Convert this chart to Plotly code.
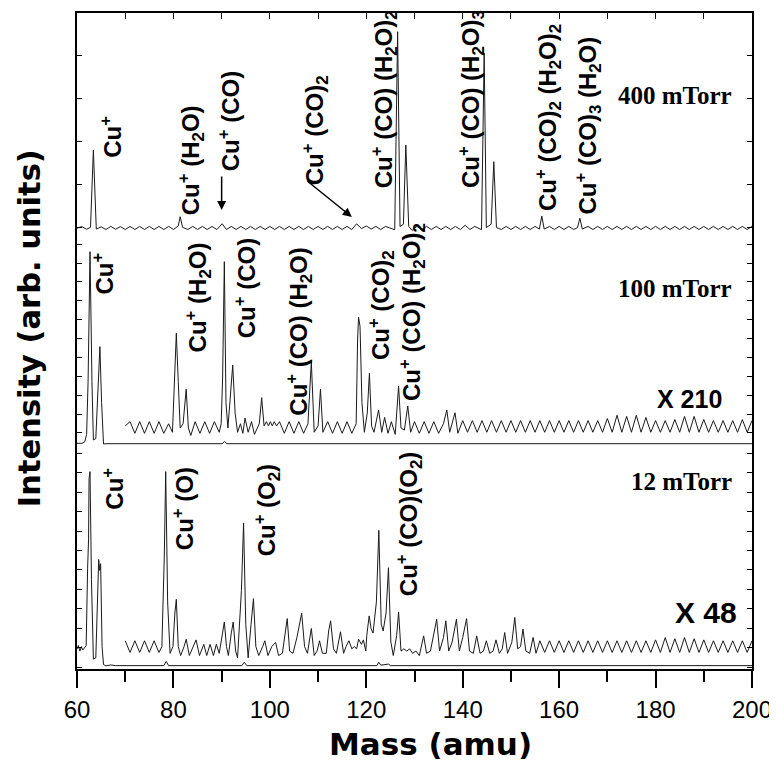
import plotly.graph_objects as go

# ---------------- data (mass in amu, intensity in arbitrary units 0-100 per panel) ----------------
spec_400 = [
    (60, 2.2), (61, 2.9), (62, 1.7), (62.8, 2.6), (63.4, 37.7), (64.0, 1.8), (65, 2.8), (66, 1.6),
    (67, 3.0), (68, 1.7), (69, 2.9), (70, 1.6), (71, 3.0), (72, 1.6), (73, 3.0), (74, 1.6),
    (75, 3.0), (76, 1.6), (77, 3.0), (78, 1.6), (79, 3.0), (80, 1.6), (81.0, 3.2), (81.4, 7.4),
    (81.9, 2.6), (83, 1.6), (84, 3.0), (85, 1.6), (86, 3.0), (87, 1.6), (88, 3.0), (89, 1.6),
    (90.1, 4.2), (91, 1.6), (92, 3.0), (93, 1.6), (94, 3.0), (95, 1.6), (96, 3.0), (97, 1.6),
    (98, 3.0), (99, 1.6), (100, 3.0), (101, 1.6), (102, 3.0), (103, 1.6), (104, 3.0), (105, 1.6),
    (106, 3.0), (107, 1.6), (108, 3.0), (109, 1.6), (110, 3.0), (111, 1.6), (112, 3.0), (113, 1.6),
    (114, 3.0), (115, 1.6), (116, 3.0), (117, 1.6), (118, 4.2), (119, 2.0), (120, 3.2), (121, 1.8),
    (122, 3.0), (123, 1.6), (124, 3.0), (125.9, 1.5), (126.5, 91.5), (127.0, 2.9), (127.7, 4.0),
    (128.2, 40.0), (128.8, 3.0), (129.5, 1.2), (130.5, 3.0), (131.5, 1.6), (132.5, 3.0), (133.5, 1.6),
    (134.5, 3.0), (135.5, 1.6), (136.5, 3.0), (137.5, 1.6), (138.5, 3.0), (139.5, 1.6), (140.5, 3.5),
    (141.5, 1.6), (142.5, 3.0), (143.9, 1.5), (144.45, 81.8), (144.9, 2.5), (145.9, 4.0), (146.45, 32.4),
    (147.0, 2.5), (148, 1.6), (149, 3.0), (150, 1.6), (151, 3.0), (152, 1.6), (153, 3.0), (154, 1.6),
    (155, 3.0), (155.9, 1.8), (156.4, 7.7), (156.9, 1.8), (158, 3.0), (159, 1.6), (160, 3.0), (161, 1.6),
    (162, 3.0), (163, 1.6), (163.8, 2.4), (164.3, 6.7), (164.8, 1.8), (166, 3.0), (167, 1.6), (168, 3.0),
    (169, 1.6), (170, 3.0), (171, 1.6), (172, 3.0), (173, 1.6), (174, 3.0), (175, 1.6), (176, 3.0),
    (177, 1.6), (178, 3.0), (179, 1.6), (180, 3.0), (181, 1.6), (182, 3.0), (183, 1.6), (184, 3.0),
    (185, 1.6), (186, 3.0), (187, 1.6), (188, 3.0), (189, 1.6), (190, 3.0), (191, 1.6), (192, 3.0),
    (193, 1.6), (194, 3.0), (195, 1.6), (196, 3.0), (197, 1.6), (198, 3.0), (199, 1.6), (200, 3.0),
]

spec_100_full = [
    (60, 0.8), (61, 0.8), (61.6, 1.5), (62.0, 5.0), (62.3, 30.0), (62.7, 91.2), (63.1, 30.0),
    (63.4, 2.4), (63.9, 3.0), (64.3, 25.0), (64.75, 46.4), (65.1, 20.0), (65.5, 0.5), (66, 0.6),
    (90.1, 0.6), (90.6, 1.6), (91.1, 0.6), (200, 0.6),
]

spec_100_x210 = [
    (70, 9.0), (71, 11.0), (72, 5.5), (73, 11.0), (74, 5.5), (75, 11.0), (76, 5.5), (77, 11.0),
    (78, 5.5), (79, 10.0), (79.8, 6.0), (80.2, 30.0), (80.6, 52.7), (81.0, 30.0), (81.4, 8.0),
    (82.0, 10.0), (82.3, 19.8), (82.65, 26.3), (83.1, 8.0), (83.6, 4.5), (84.5, 11.0), (85.5, 5.5),
    (86.5, 11.0), (87.5, 5.5), (88.5, 11.0), (89.5, 6.0), (89.9, 10.0), (90.2, 31.6), (90.56, 86.5),
    (90.9, 20.0), (91.3, 8.0), (91.8, 24.5), (92.3, 37.7), (92.8, 15.0), (93.3, 6.0), (93.9, 10.0),
    (94.4, 5.5), (94.85, 12.7), (95.5, 6.0), (96.2, 11.0), (96.8, 5.0), (97.8, 10.0), (98.3, 22.3),
    (98.8, 9.0), (99.3, 11.0), (99.7, 9.0), (100.1, 11.0), (100.5, 9.0), (100.9, 11.0), (101.4, 9.0),
    (102, 11.0), (103, 5.5), (104, 11.0), (105, 5.5), (106, 11.0), (107, 5.5), (107.9, 10.0),
    (108.6, 39.3), (109.2, 6.0), (110.0, 9.0), (110.5, 26.3), (111.0, 6.0), (112, 11.0), (113, 5.5),
    (114, 11.0), (115, 5.5), (116, 11.0), (117, 5.5), (117.9, 10.0), (118.2, 50.0), (118.4, 60.2),
    (118.7, 56.0), (119.1, 20.0), (119.6, 6.0), (120.2, 15.0), (120.65, 33.8), (121.1, 9.0),
    (121.6, 6.0), (122.55, 16.5), (123.2, 6.0), (123.8, 13.0), (124.5, 5.5), (125.2, 11.0),
    (126.0, 5.0), (126.7, 27.8), (127.2, 8.0), (127.9, 7.0), (128.6, 18.4), (129.2, 6.0), (130, 11.0),
    (131, 5.5), (132, 11.0), (133, 5.5), (134, 11.0), (135, 5.5), (136, 10.0), (136.7, 16.5),
    (137.3, 6.0), (138.4, 15.2), (139.0, 5.5), (140, 11.5), (141, 6.0), (142, 11.5), (143, 6.0),
    (144, 11.5), (145, 6.0), (146, 11.5), (147, 6.0), (148, 11.5), (149, 6.0), (150, 11.5), (151, 6.0),
    (152, 11.5), (153, 6.0), (154, 11.5), (155, 6.0), (156, 11.5), (157, 6.0), (158, 11.5), (159, 6.0),
    (160, 11.5), (161, 6.0), (162, 11.5), (163, 6.0), (164, 11.5), (165, 6.0), (166, 11.5), (167, 6.0),
    (168, 11.5), (169, 6.0), (170, 12.5), (171, 6.0), (172, 14.0), (173, 6.0), (174, 13.5), (175, 6.0),
    (176, 14.0), (177, 6.0), (178, 13.0), (179, 6.0), (180, 11.5), (181, 6.0), (182, 11.5), (183, 6.0),
    (184, 12.0), (185, 6.0), (186, 13.5), (187, 6.0), (188, 13.5), (189, 6.0), (190, 12.0), (191, 6.0),
    (192, 11.5), (193, 6.0), (194, 11.5), (195, 6.0), (196, 11.5), (197, 6.0), (198, 12.0), (199, 6.0),
    (200, 11.5),
]

spec_12_full = [
    (60, 8.9), (60.3, 10.5), (60.6, 8.0), (60.9, 10.0), (61.2, 8.5), (61.6, 9.5), (61.9, 10.4),
    (62.2, 45.0), (62.4, 58.0), (62.5, 85.0), (62.7, 88.1), (63.0, 40.0), (63.4, 4.4), (63.9, 5.0),
    (64.2, 30.0), (64.5, 48.9), (64.7, 44.0), (64.9, 47.0), (65.2, 10.0), (65.5, 2.0), (66, 1.4),
    (67, 1.8), (68, 1.5), (78.0, 1.5), (78.5, 3.4), (79.0, 1.5), (94.2, 1.5), (94.7, 3.0), (95.2, 1.5),
    (122.2, 1.5), (122.6, 3.0), (123.0, 1.7), (124.6, 2.2), (125.0, 1.5), (200, 1.5),
]

spec_12_x48 = [
    (70, 12.6), (71, 7.4), (72, 12.6), (73, 7.4), (74, 12.6), (75, 7.4), (76, 12.6), (77, 7.4),
    (77.6, 10.0), (78.1, 50.0), (78.4, 88.1), (78.8, 30.0), (79.3, 7.0), (79.9, 10.0), (80.3, 25.0),
    (80.6, 31.1), (81.0, 10.0), (81.5, 6.0), (82.2, 10.0), (82.65, 13.3), (83.3, 6.0), (84.1, 10.0),
    (84.7, 13.0), (85.4, 6.0), (86.3, 11.0), (86.9, 6.0), (87.6, 11.0), (88.3, 6.0), (88.9, 11.0),
    (89.5, 7.0), (90.0, 14.0), (90.56, 21.0), (91.0, 10.0), (91.4, 6.0), (92.0, 16.0), (92.4, 21.0),
    (92.9, 8.0), (93.3, 5.0), (94.1, 35.0), (94.55, 65.2), (95.0, 20.0), (95.5, 5.0), (96.1, 20.0),
    (96.6, 31.4), (97.1, 10.0), (97.7, 6.0), (98.5, 10.0), (98.96, 12.6), (99.6, 6.0), (100.4, 10.0),
    (101.2, 11.9), (101.8, 6.0), (102.6, 7.0), (103.2, 18.0), (103.6, 22.5), (104.1, 8.0), (104.8, 7.0),
    (105.6, 14.0), (106.1, 20.0), (106.6, 24.9), (107.2, 10.0), (107.8, 7.0), (108.6, 18.1),
    (109.2, 6.0), (109.8, 8.0), (110.3, 12.6), (110.9, 7.0), (111.7, 7.0), (112.2, 17.0), (112.6, 21.5),
    (113.2, 9.0), (113.8, 7.0), (114.65, 16.6), (115.3, 7.0), (115.8, 10.0), (116.4, 12.6), (117.0, 9.0),
    (117.5, 10.0), (118.0, 9.0), (118.4, 13.3), (119.0, 11.0), (119.4, 13.0), (119.9, 8.0),
    (120.1, 15.0), (120.6, 23.7), (121.0, 18.0), (121.4, 16.0), (122.1, 30.0), (122.6, 61.9),
    (123.1, 20.0), (123.5, 17.0), (124.1, 25.0), (124.6, 45.2), (125.1, 12.0), (125.6, 6.0),
    (126.3, 15.0), (126.7, 25.5), (127.2, 8.0), (127.8, 9.0), (128.4, 8.0), (129.0, 9.0), (129.6, 7.0),
    (130.3, 8.0), (131.0, 6.0), (131.9, 14.8), (132.5, 7.0), (133.3, 8.0), (134.0, 16.0), (134.6, 22.2),
    (135.2, 8.0), (136.0, 14.0), (136.5, 21.5), (137.1, 8.0), (137.8, 12.0), (138.7, 22.2),
    (139.3, 8.0), (140.0, 14.0), (140.8, 22.5), (141.4, 8.0), (142.2, 7.0), (142.9, 14.8), (143.6, 7.0),
    (144.3, 8.0), (144.9, 12.6), (145.6, 7.0), (146.3, 8.0), (146.9, 13.0), (147.6, 7.0), (148.2, 9.0),
    (148.7, 16.3), (149.3, 7.0), (150.2, 12.0), (150.8, 23.0), (151.4, 9.0), (152.0, 10.0),
    (152.5, 17.8), (153.1, 8.0), (153.9, 7.0), (154.6, 14.1), (155.2, 7.0), (156, 12.6), (157, 7.4),
    (158, 12.6), (159, 7.4), (160, 12.6), (161, 7.4), (162, 12.6), (163, 7.4), (164, 12.6), (165, 7.4),
    (166, 12.6), (167, 7.4), (168, 12.6), (169, 7.4), (170, 12.6), (171, 7.4), (172, 12.6), (173, 7.4),
    (174, 12.6), (175, 7.4), (176, 12.6), (177, 7.4), (178, 12.6), (179, 7.4), (180, 13.0), (181, 7.4),
    (182, 14.0), (183, 7.4), (184, 13.5), (185, 7.4), (186, 14.0), (187, 7.4), (188, 13.5), (189, 7.4),
    (190, 13.0), (191, 7.4), (192, 12.6), (193, 7.4), (194, 12.6), (195, 7.4), (196, 12.6), (197, 7.4),
    (198, 12.6), (199, 7.4), (200, 12.6),
]

# peak labels: (text, mass at label centre, intensity at label bottom)
labels_400 = [
    ("Cu<sup>+</sup>", 67.0, 33.2),
    ("Cu<sup>+</sup> (H<sub>2</sub>O)", 83.7, 7.3),
    ("Cu<sup>+</sup> (CO)", 91.6, 27.3),
    ("Cu<sup>+</sup> (CO)<sub>2</sub>", 109.4, 20.9),
    ("Cu<sup>+</sup> (CO) (H<sub>2</sub>O)<sub>2</sub>", 123.7, 19.5),
    ("Cu<sup>+</sup> (CO) (H<sub>2</sub>O)<sub>3</sub>", 141.7, 19.5),
    ("Cu<sup>+</sup> (CO)<sub>2</sub> (H<sub>2</sub>O)<sub>2</sub>", 157.6, 9.1),
    ("Cu<sup>+</sup> (CO)<sub>3</sub> (H<sub>2</sub>O)", 165.9, 7.3),
]
labels_100 = [
    ("Cu<sup>+</sup>", 65.3, 69.8),
    ("Cu<sup>+</sup> (H<sub>2</sub>O)", 85.0, 42.5),
    ("Cu<sup>+</sup> (CO)", 94.9, 49.5),
    ("Cu<sup>+</sup> (CO) (H<sub>2</sub>O)", 106.1, 13.0),
    ("Cu<sup>+</sup> (CO)<sub>2</sub>", 123.1, 39.2),
    ("Cu<sup>+</sup> (CO) (H<sub>2</sub>O)<sub>2</sub>", 129.5, 19.8),
]
labels_12 = [
    ("Cu<sup>+</sup>", 67.4, 70.1),
    ("Cu<sup>+</sup> (O)", 81.9, 52.2),
    ("Cu<sup>+</sup> (O<sub>2</sub>)", 99.3, 49.6),
    ("Cu<sup>+</sup> (CO)(O<sub>2</sub>)", 128.9, 31.7),
]
# arrows in the 400 mTorr panel: (tail mass, tail intensity, head mass, head intensity)
arrows_400 = [(90.0, 26.4, 90.0, 10.5), (107.5, 24.1, 117.0, 7.3)]
# panel captions: (text, mass, intensity, panel, size, family)
captions = [
    ("400 mTorr", 184.1, 62.7, "y", 25, "Liberation Serif"),
    ("100 mTorr", 184.1, 73.6, "y2", 25, "Liberation Serif"),
    ("12 mTorr", 185.3, 83.9, "y3", 25, "Liberation Serif"),
    ("X 210", 187.0, 21.7, "y2", 25, "Liberation Sans"),
    ("X 48", 190.5, 25.0, "y3", 30, "Liberation Sans"),
]

# ---------------- figure ----------------
# (the page body adds an 8 px offset, so the figure is 8 px smaller and margins are reduced by 8 px)
fig = go.Figure()
LINE = dict(color="#1a1a1a", width=1)
for spec, xa, ya in [(spec_400, "x", "y"), (spec_100_full, "x2", "y2"), (spec_100_x210, "x2", "y2"),
                     (spec_12_full, "x3", "y3"), (spec_12_x48, "x3", "y3")]:
    fig.add_trace(go.Scatter(x=[p[0] for p in spec], y=[p[1] for p in spec], xaxis=xa, yaxis=ya,
                             mode="lines", line=LINE, showlegend=False, hoverinfo="skip"))

ann = []
LF = dict(family="Liberation Sans", size=24, color="black")
for lst, yr in [(labels_400, "y"), (labels_100, "y2"), (labels_12, "y3")]:
    for t, m, v in lst:
        ann.append(dict(text="<b>" + t + "</b>", x=m, y=v, xref=yr.replace("y", "x"), yref=yr,
                        textangle=-90, xanchor="center", yanchor="bottom", showarrow=False, font=LF))
for tx, ty, hx, hy in arrows_400:
    ann.append(dict(text="", x=hx, y=hy, ax=tx, ay=ty, xref="x", yref="y", axref="x", ayref="y",
                    showarrow=True, arrowhead=2, arrowsize=1.2, arrowwidth=1.5, arrowcolor="black"))
for t, m, v, yr, sz, fam in captions:
    ann.append(dict(text="<b>" + t + "</b>", x=m, y=v, xref=yr.replace("y", "x"), yref=yr,
                    showarrow=False, xanchor="center", yanchor="middle",
                    font=dict(family=fam, size=sz, color="black")))
ann.append(dict(text="<b>Intensity (arb. units)</b>", xref="paper", yref="paper", x=-0.0709, y=0.5198,
                textangle=-90, showarrow=False, xanchor="center", yanchor="middle",
                font=dict(family="DejaVu Sans", size=30.5, color="black")))
ann.append(dict(text="<b>Mass (amu)</b>", xref="paper", yref="paper", x=0.523, y=-0.115,
                showarrow=False, xanchor="center", yanchor="middle",
                font=dict(family="DejaVu Sans", size=31, color="black")))

yax = dict(range=[0, 100], showline=True, linecolor="black", linewidth=2, mirror="ticks",
           ticks="inside", ticklen=5, tickwidth=1, tickcolor="black", showticklabels=False,
           showgrid=False, zeroline=False, fixedrange=True)
d1, d2 = 0.3415, 0.6646
fig.update_layout(
    width=769, height=758, margin=dict(l=69, r=23, t=5, b=97),
    paper_bgcolor="white", plot_bgcolor="white",
    xaxis=dict(domain=[0, 1], range=[60, 200], anchor="y", side="top", showline=True, linecolor="black",
               linewidth=2, ticks="inside", ticklen=6, tickwidth=1, tickcolor="black", tick0=60, dtick=10,
               showticklabels=False, showgrid=False, zeroline=False),
    yaxis=dict(yax, domain=[d2, 1], anchor="x", tick0=2.7, dtick=19.5),
    xaxis2=dict(domain=[0, 1], range=[60, 200], anchor="y2", visible=False, matches="x"),
    yaxis2=dict(yax, domain=[d1, d2], anchor="x2", tick0=5.7, dtick=8.9),
    xaxis3=dict(domain=[0, 1], range=[60, 200], anchor="y3", showline=True, linecolor="black", linewidth=2,
                ticks="outside", ticklen=17, tickwidth=2, tickcolor="black", tick0=60, dtick=20,
                minor=dict(dtick=10, tick0=60, ticks="outside", ticklen=11, tickwidth=2, tickcolor="black"),
                tickfont=dict(family="Liberation Sans", size=24, color="black"), ticklabelstandoff=1,
                showgrid=False, zeroline=False, matches="x"),
    yaxis3=dict(yax, domain=[0, d1], anchor="x3", tick0=9.4, dtick=8.7),
    annotations=ann,
)
fig.write_html("out.html")
